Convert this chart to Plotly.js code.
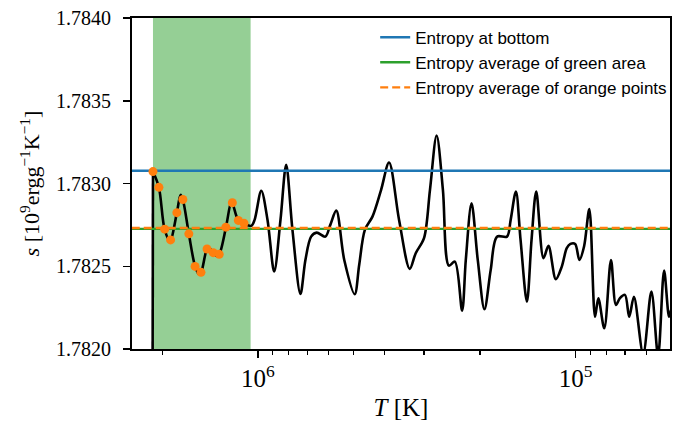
<!DOCTYPE html>
<html>
<head>
<meta charset="utf-8">
<script src="https://cdn.plot.ly/plotly-3.0.1.min.js"></script>
<style>
html,body{margin:0;padding:0;background:#fff;}
#chart{width:673px;height:421px;}
</style>
</head>
<body>
<div id="chart"></div>
<script>
// Temperature grid (K) of the entropy profile
const T = [2.146e6, 2.138e6, 2.048e6, 1.966e6, 1.891e6, 1.798e6, 1.751e6, 1.722e6, 1.649e6, 1.576e6,
  1.534e6, 1.509e6, 1.445e6, 1.417e6, 1.382e6, 1.348e6, 1.323e6, 1.260e6, 1.213e6, 1.203e6,
  1.152e6, 1.109e6, 1.049e6, 1.024e6, 9.757e5, 9.324e5, 8.884e5, 8.489e5, 8.147e5, 7.784e5,
  7.346e5, 7.086e5, 6.800e5, 6.531e5, 6.135e5, 5.917e5, 5.666e5, 5.348e5, 4.958e5, 4.800e5,
  4.606e5, 4.360e5, 4.095e5, 3.865e5, 3.595e5, 3.328e5, 3.187e5, 3.001e5, 2.874e5, 2.739e5,
  2.617e5, 2.506e5, 2.400e5, 2.277e5, 2.217e5, 2.127e5, 2.033e5, 1.937e5, 1.851e5, 1.769e5,
  1.645e5, 1.602e5, 1.542e5, 1.491e5, 1.424e5, 1.377e5, 1.331e5, 1.263e5, 1.218e5, 1.155e5,
  1.106e5, 1.067e5, 1.039e5, 1.004e5, 9.736e4, 9.412e4, 9.059e4, 8.693e4, 8.487e4, 8.128e4,
  7.745e4, 7.471e4, 7.257e4, 7.000e4, 6.786e4, 6.559e4, 6.134e4, 5.778e4, 5.505e4, 5.271e4,
  5.085e4, 5.012e4];
// Entropy (10^9 erg g^-1 K^-1)
const S = [1.7815, 1.783072, 1.782976, 1.782724, 1.782653, 1.782824, 1.782931, 1.782903, 1.782696, 1.782500,
  1.782454, 1.782463, 1.782603, 1.782608, 1.782582, 1.782562, 1.782572, 1.782736, 1.782889, 1.782883,
  1.782777, 1.782760, 1.782744, 1.782780, 1.782956, 1.782780, 1.782468, 1.782780, 1.783113, 1.782720,
  1.782333, 1.782538, 1.782679, 1.782703, 1.782679, 1.782750, 1.782836, 1.782538, 1.782331, 1.782508,
  1.782720, 1.782800, 1.782962, 1.783127, 1.782780, 1.782484, 1.782579, 1.782670, 1.782962, 1.783290,
  1.782962, 1.782504, 1.782528, 1.782232, 1.782538, 1.782881, 1.782538, 1.782240, 1.782478, 1.782679,
  1.782679, 1.782780, 1.782951, 1.782659, 1.782286, 1.782659, 1.782951, 1.782549, 1.782623, 1.782422,
  1.782498, 1.782609, 1.782635, 1.782635, 1.782538, 1.782619, 1.782845, 1.782195, 1.782307, 1.782125,
  1.782538, 1.782266, 1.782307, 1.782327, 1.782195, 1.782316, 1.78197, 1.782347, 1.78196, 1.782474,
  1.782195, 1.782236];

// Orange sample points
const orangeT = [2.138e6, 2.048e6, 1.964e6, 1.882e6, 1.798e6, 1.722e6, 1.649e6, 1.576e6,
  1.510e6, 1.445e6, 1.382e6, 1.323e6, 1.261e6, 1.203e6, 1.152e6, 1.106e6];
const orangeS = [1.783072, 1.782977, 1.782724, 1.782659, 1.782824, 1.782903, 1.782696, 1.782499,
  1.782463, 1.782604, 1.782582, 1.782572, 1.782736, 1.782884, 1.782777, 1.782760];

// Reference levels
const sBottom = 1.783077;
const sGreenAvg = 1.782726;
const sOrangeAvg = 1.782731;
const greenT = [2.138e6, 1.054e6];
const spanT = [5e6, 2e4];
const sRange = [1.782, 1.784];
const TRange = [2.489e6, 5.05e4];

const legendNames = ['Entropy at bottom', 'Entropy average of green area', 'Entropy average of orange points'];

const traces = [
  {x: [greenT[0], greenT[1], greenT[1], greenT[0]], y: [sRange[0] - 0.001, sRange[0] - 0.001, sRange[1] + 0.001, sRange[1] + 0.001],
    mode: 'lines', fill: 'toself', fillcolor: 'rgba(44,160,44,0.5)', line: {width: 0, color: 'rgba(0,0,0,0)'}, showlegend: false, hoverinfo: 'skip'},
  {x: T.slice(0, 2), y: S.slice(0, 2), mode: 'lines', line: {color: '#000', width: 2.6}, showlegend: false, hoverinfo: 'skip'},
  {x: T.slice(1), y: S.slice(1), mode: 'lines', line: {color: '#000', width: 2.6, shape: 'spline', smoothing: 0.9}, showlegend: false},
  {x: spanT, y: [sBottom, sBottom], mode: 'lines', name: legendNames[0], line: {color: '#1f77b4', width: 2.4}},
  {x: spanT, y: [sGreenAvg, sGreenAvg], mode: 'lines', name: legendNames[1], line: {color: '#2ca02c', width: 2.4}},
  {x: spanT, y: [sOrangeAvg, sOrangeAvg], mode: 'lines', name: legendNames[2], line: {color: '#ff7f0e', width: 2.4, dash: '8px,4px'}},
  {x: orangeT, y: orangeS, mode: 'markers', marker: {color: '#ff7f0e', size: 9}, showlegend: false}
];

const layout = {
  width: 673, height: 421,
  margin: {l: 132, r: 1, t: 18, b: 72},
  paper_bgcolor: '#fff', plot_bgcolor: '#fff',
  showlegend: true,
  legend: {x: 0.452, y: 0.995, xanchor: 'left', yanchor: 'top', bgcolor: 'rgba(0,0,0,0)', borderwidth: 0,
    font: {family: 'Liberation Sans, Arial, sans-serif', size: 17, color: '#000'}, tracegroupgap: 0},
  xaxis: {
    type: 'log', range: [Math.log10(TRange[0]), Math.log10(TRange[1])],
    showline: true, linecolor: '#000', linewidth: 2, mirror: true,
    ticks: 'outside', ticklen: 7, tickwidth: 1.5, tickcolor: '#000',
    dtick: 1, exponentformat: 'power', showgrid: false, zeroline: false,
    minor: {ticks: 'outside', ticklen: 4, tickwidth: 1.2, tickcolor: '#000', dtick: 'D1', showgrid: false},
    tickfont: {family: 'Liberation Serif, serif', size: 20, color: '#000'},
    title: {text: '<i>T</i> [K]', font: {family: 'Liberation Serif, serif', size: 25, color: '#000'}, standoff: 8}
  },
  yaxis: {
    range: sRange, dtick: 0.0005, tickformat: '.4f',
    showline: true, linecolor: '#000', linewidth: 2, mirror: true,
    ticks: 'outside', ticklen: 7, tickwidth: 1.5, tickcolor: '#000',
    ticklabelstandoff: 8,
    showgrid: false, zeroline: false,
    tickfont: {family: 'Liberation Serif, serif', size: 20, color: '#000'},
    title: {text: '<i>s</i> [10<sup>9</sup>ergg<sup>−1</sup>K<sup>−1</sup>]', font: {family: 'Liberation Serif, serif', size: 22, color: '#000'}, standoff: 10}
  }
};

Plotly.newPlot('chart', traces, layout, {displayModeBar: false, staticPlot: true});
</script>
</body>
</html>
